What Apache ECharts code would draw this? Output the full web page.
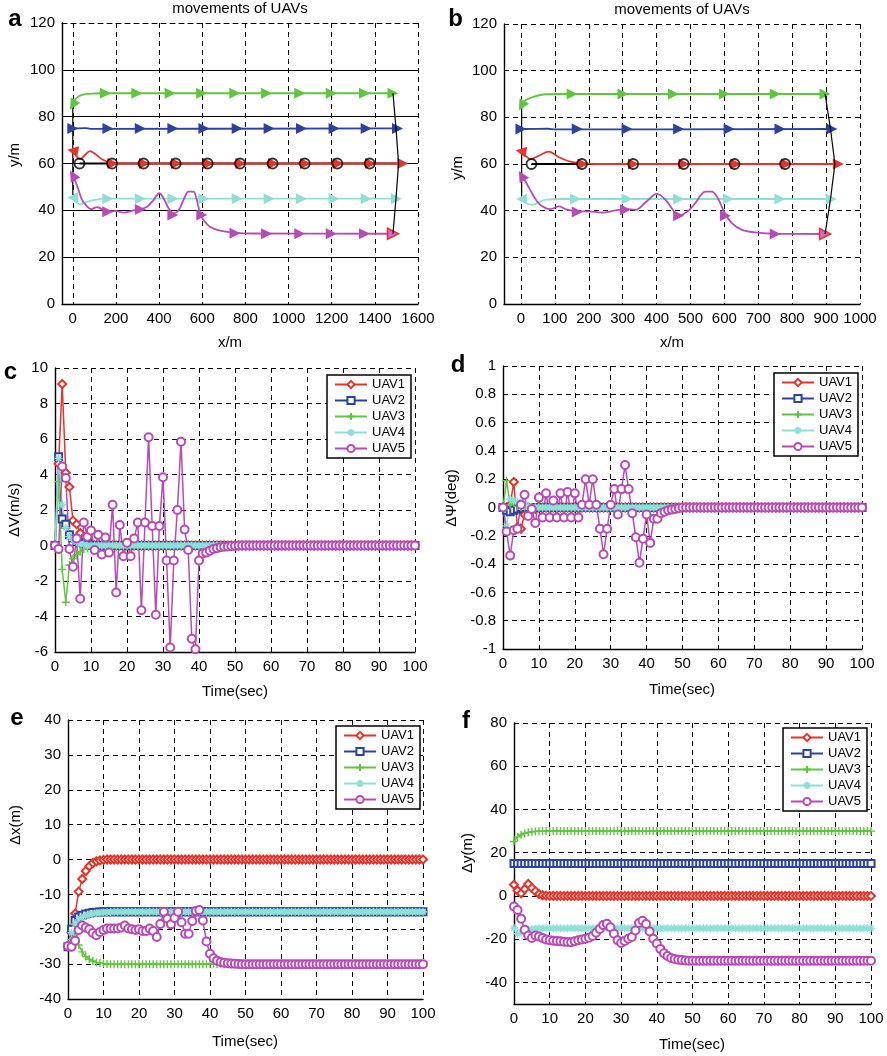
<!DOCTYPE html>
<html><head><meta charset="utf-8">
<script src="https://cdn.jsdelivr.net/npm/echarts@6/dist/echarts.min.js"></script>
<style>html,body{margin:0;padding:0;background:#fff}#c{width:887px;height:1056px}</style>
</head><body><div id="c"></div>
<script>
// ---------------- tick labels ----------------
const aXTicks = [0,200,400,600,800,1000,1200,1400,1600];
const aYTicks = [0,20,40,60,80,100,120];
const aYGrid = [0,20,40,60,80,100];
const bXTicks = [0,100,200,300,400,500,600,700,800,900,1000];
const fYTicks = [-40,-20,0,20,40,60,80];
const uavNames = ['UAV1','UAV2','UAV3','UAV4','UAV5'];

// ---------------- panel a: trajectories (x/m, y/m) ----------------
const aUav1Path = [[0,65.5],[18,63],[34,61.8],[55,63.5],[80,65.3],[105,64],[135,61.8],[175,60.4],[230,60],[1530,60]];
const aUav2Path = [[0,75],[60,75.1],[80,74.8],[1505,75]];
const aUav3Path = [[0,85],[12,87.3],[30,88.8],[60,89.6],[100,89.9],[150,90],[1484,90]];
const aUav4Path = [[0,45.5],[15,43.5],[35,42.6],[60,43.5],[100,44.5],[160,45],[1500,45]];
const aUav5Path = [[0,55.1],[20,50.5],[43,44.5],[65,41.8],[85,40.5],[112,41.4],[136,40.4],[162,39.4],[197,39.8],[236,39],[282,40],[313,40.4],[344,41.5],[374,44.4],[401,47.3],[425,44.4],[444,40.9],[467,38.7],[490,39.9],[513,44.4],[536,48],[559,48],[575,44.4],[590,38.7],[606,35.9],[636,33],[683,31.3],[744,30.5],[837,30.1],[1484,30]];
const aUav1Marks = [[0,65.5],[186,60],[332,60],[481,60],[629,60],[779,60],[930,60],[1079,60],[1230,60],[1380,60],[1530,60]];
const aUav2Marks = [[0,75],[163,75],[313,75],[464,75],[608,75],[762,75],[910,75],[1060,75],[1211,75],[1360,75],[1505,75]];
const aUav3Marks = [[0,85],[151,90],[297,90],[451,90],[597,90],[751,90],[898,90],[1052,90],[1198,90],[1352,90],[1484,90]];
const aUav4Marks = [[0,45.5],[162,45],[313,45],[464,45],[608,45],[762,45],[910,45],[1060,45],[1211,45],[1360,45],[1500,45]];
const aUav5Marks = [[0,55],[162,39.4],[313,40.4],[464,38],[598,38],[752,30.2],[898,30],[1052,30],[1198,30],[1352,30],[1484,30]];
const aLeaderPath = [[31,60],[1510,60]];
const aLeaderMarks = [[31,60],[182,60],[328,60],[477,60],[625,60],[775,60],[926,60],[1075,60],[1226,60],[1376,60]];
const aStartLine = [[0,85],[0,75],[0,65],[0,55],[0,45]];
const aEndLine = [[1484,90],[1498,75],[1510,60],[1498,45],[1484,30]];

// ---------------- panel b: trajectories ----------------
const bUav1Path = [[0,65.8],[14,63.5],[28.6,62.1],[48,63.2],[82,65.3],[112,62.9],[146,61],[181,60.4],[220,60],[936,60]];
const bUav2Path = [[0,75],[80,75.1],[100,74.8],[917,75]];
const bUav3Path = [[2,85.3],[12,87.2],[33,88.6],[73,89.9],[120,90],[897,90]];
const bUav4Path = [[2,45.1],[15,43.2],[33,42.5],[73,44.7],[120,45],[915,45]];
const bUav5Path = [[2,55.4],[19,51.1],[38,46.1],[53,43],[73,41.1],[87,40.7],[112,41.8],[131,40.7],[166,39.7],[200,39.7],[239,39.2],[279,40.1],[308,40.7],[338,40.4],[367,43.5],[401,47.2],[426,44.7],[455,39],[465,37.8],[495,40.1],[514,43.2],[544,48.2],[563,48.2],[583,44.7],[601,39],[622,34.7],[652,31.8],[691,30.7],[750,30.1],[897,30]];
const bUav1Marks = [[0,65.5],[183,60],[332,60],[481,60],[634,60],[783,60],[936,60]];
const bUav2Marks = [[0,75],[166,75],[313,75],[465,75],[614,75],[764,75],[917,75]];
const bUav3Marks = [[2,85],[151,90],[301,90],[450,90],[600,90],[750,90],[897,90]];
const bUav4Marks = [[2,45],[161,45],[313,45],[465,45],[612,45],[764,45],[915,45]];
const bUav5Marks = [[2,55],[166,39.4],[308,40.4],[465,37.8],[603,37.8],[750,30],[897,30]];
const bLeaderPath = [[31,60],[930,60]];
const bLeaderMarks = [[31,60],[180,60],[331,60],[480,60],[630,60],[779,60]];
const bStartLine = [[2,85],[2,75],[2,65],[2,55],[2,45]];
const bEndLine = [[897,90],[913,75],[926,60],[913,45],[897,30]];

// ---------------- time (sec) ----------------
const time = [
0,1,2,3,4,5,6,7,8,9,
10,11,12,13,14,15,16,17,18,19,
20,21,22,23,24,25,26,27,28,29,
30,31,32,33,34,35,36,37,38,39,
40,41,42,43,44,45,46,47,48,49,
50,51,52,53,54,55,56,57,58,59,
60,61,62,63,64,65,66,67,68,69,
70,71,72,73,74,75,76,77,78,79,
80,81,82,83,84,85,86,87,88,89,
90,91,92,93,94,95,96,97,98,99,
100];

// ---------------- panel c: dV (m/s) ----------------
const cUav1 = [
0,4.6,9.1,4.1,3.3,1.4,1.2,0.7,0.4,0.2,
0.1,0,0,0,0,0,0,0,0,0,
0,0,0,0,0,0,0,0,0,0,
0,0,0,0,0,0,0,0,0,0,
0,0,0,0,0,0,0,0,0,0,
0,0,0,0,0,0,0,0,0,0,
0,0,0,0,0,0,0,0,0,0,
0,0,0,0,0,0,0,0,0,0,
0,0,0,0,0,0,0,0,0,0,
0,0,0,0,0,0,0,0,0,0,
0];
const cUav2 = [
0,5.0,1.5,1.2,0.6,0.4,0.3,0.2,0.1,0.05,
0,0,0,0,0,0,0,0,0,0,
0,0,0,0,0,0,0,0,0,0,
0,0,0,0,0,0,0,0,0,0,
0,0,0,0,0,0,0,0,0,0,
0,0,0,0,0,0,0,0,0,0,
0,0,0,0,0,0,0,0,0,0,
0,0,0,0,0,0,0,0,0,0,
0,0,0,0,0,0,0,0,0,0,
0,0,0,0,0,0,0,0,0,0,
0];
const cUav3 = [
0,3.6,-1.35,-3.2,-1.1,-0.75,-0.5,-0.35,-0.2,-0.15,
-0.1,-0.05,0,0,0,0,0,0,0,0,
0,0,0,0,0,0,0,0,0,0,
0,0,0,0,0,0,0,0,0,0,
0,0,0,0,0,0,0,0,0,0,
0,0,0,0,0,0,0,0,0,0,
0,0,0,0,0,0,0,0,0,0,
0,0,0,0,0,0,0,0,0,0,
0,0,0,0,0,0,0,0,0,0,
0,0,0,0,0,0,0,0,0,0,
0];
const cUav4 = [
0,4.9,2.3,1.0,0.5,0.3,0.2,0.1,0.05,0,
0,0,0,0,0,0,0,0,0,0,
0,0,0,0,0,0,0,0,0,0,
0,0,0,0,0,0,0,0,0,0,
0,0,0,0,0,0,0,0,0,0,
0,0,0,0,0,0,0,0,0,0,
0,0,0,0,0,0,0,0,0,0,
0,0,0,0,0,0,0,0,0,0,
0,0,0,0,0,0,0,0,0,0,
0,0,0,0,0,0,0,0,0,0,
0];
const cUav5 = [
0,-0.2,4.45,3.8,-0.2,-1.2,0.4,-3.0,1.3,0.5,
0.85,-0.25,0.6,-0.5,0.45,-0.4,2.3,-2.65,1.15,-0.6,
0.15,-0.6,0.4,1.3,-3.65,1.3,6.1,1.1,-3.9,1.1,
3.85,-0.85,-5.75,-0.85,2.0,5.85,0.9,-0.25,-5.25,-5.85,
-0.85,-0.45,-0.4,-0.3,-0.2,-0.15,-0.1,-0.07,-0.05,-0.03,
-0.02,0,0,0,0,0,0,0,0,0,
0,0,0,0,0,0,0,0,0,0,
0,0,0,0,0,0,0,0,0,0,
0,0,0,0,0,0,0,0,0,0,
0,0,0,0,0,0,0,0,0,0,
0];

// ---------------- panel d: dPsi (deg) ----------------
const dUav1 = [
0,0,0.02,0.18,-0.14,-0.15,-0.05,-0.03,-0.02,-0.01,
0,0,0,0,0,0,0,0,0,0,
0,0,0,0,0,0,0,0,0,0,
0,0,0,0,0,0,0,0,0,0,
0,0,0,0,0,0,0,0,0,0,
0,0,0,0,0,0,0,0,0,0,
0,0,0,0,0,0,0,0,0,0,
0,0,0,0,0,0,0,0,0,0,
0,0,0,0,0,0,0,0,0,0,
0,0,0,0,0,0,0,0,0,0,
0];
const dUav2 = [
0,-0.02,-0.03,-0.02,-0.01,0,0,0,0,0,
0,0,0,0,0,0,0,0,0,0,
0,0,0,0,0,0,0,0,0,0,
0,0,0,0,0,0,0,0,0,0,
0,0,0,0,0,0,0,0,0,0,
0,0,0,0,0,0,0,0,0,0,
0,0,0,0,0,0,0,0,0,0,
0,0,0,0,0,0,0,0,0,0,
0,0,0,0,0,0,0,0,0,0,
0,0,0,0,0,0,0,0,0,0,
0];
const dUav3 = [
0,0.19,0.02,0.03,0.01,0,0,0,0,0,
0,0,0,0,0,0,0,0,0,0,
0,0,0,0,0,0,0,0,0,0,
0,0,0,0,0,0,0,0,0,0,
0,0,0,0,0,0,0,0,0,0,
0,0,0,0,0,0,0,0,0,0,
0,0,0,0,0,0,0,0,0,0,
0,0,0,0,0,0,0,0,0,0,
0,0,0,0,0,0,0,0,0,0,
0,0,0,0,0,0,0,0,0,0,
0];
const dUav4 = [
0,-0.13,0.06,0.05,0.04,0.03,0.02,0.01,0,0,
0,0,0,0,0,0,0,0,0,0,
0,0,0,0,0,0,0,0,0,0,
0,0,0,0,0,0,0,0,0,0,
0,0,0,0,0,0,0,0,0,0,
0,0,0,0,0,0,0,0,0,0,
0,0,0,0,0,0,0,0,0,0,
0,0,0,0,0,0,0,0,0,0,
0,0,0,0,0,0,0,0,0,0,
0,0,0,0,0,0,0,0,0,0,
0];
const dUav5 = [
0,-0.17,-0.34,-0.16,-0.15,0.02,0.09,-0.06,-0.01,-0.11,
0.07,-0.07,0.1,-0.07,0.05,-0.07,0.1,-0.07,0.11,-0.07,
0.1,-0.07,0.02,0.2,0.02,0.2,0.02,-0.15,-0.33,-0.15,
0.02,0.13,-0.05,0.13,0.3,0.13,-0.04,-0.21,-0.39,-0.22,
-0.05,-0.25,-0.08,-0.08,-0.04,-0.03,-0.02,-0.015,-0.01,-0.005,
0,0,0,0,0,0,0,0,0,0,
0,0,0,0,0,0,0,0,0,0,
0,0,0,0,0,0,0,0,0,0,
0,0,0,0,0,0,0,0,0,0,
0,0,0,0,0,0,0,0,0,0,
0];

// ---------------- panel e: dx (m) ----------------
const eUav1 = [
-25,-21,-15.5,-9.2,-5.6,-3.3,-1.9,-1.0,-0.5,-0.25,
-0.1,0,0,0,0,0,0,0,0,0,
0,0,0,0,0,0,0,0,0,0,
0,0,0,0,0,0,0,0,0,0,
0,0,0,0,0,0,0,0,0,0,
0,0,0,0,0,0,0,0,0,0,
0,0,0,0,0,0,0,0,0,0,
0,0,0,0,0,0,0,0,0,0,
0,0,0,0,0,0,0,0,0,0,
0,0,0,0,0,0,0,0,0,0,
0];
const eUav2 = [
-25,-20,-17.5,-16.5,-16,-15.6,-15.4,-15.2,-15.1,-15.05,
-15,-15,-15,-15,-15,-15,-15,-15,-15,-15,
-15,-15,-15,-15,-15,-15,-15,-15,-15,-15,
-15,-15,-15,-15,-15,-15,-15,-15,-15,-15,
-15,-15,-15,-15,-15,-15,-15,-15,-15,-15,
-15,-15,-15,-15,-15,-15,-15,-15,-15,-15,
-15,-15,-15,-15,-15,-15,-15,-15,-15,-15,
-15,-15,-15,-15,-15,-15,-15,-15,-15,-15,
-15,-15,-15,-15,-15,-15,-15,-15,-15,-15,
-15,-15,-15,-15,-15,-15,-15,-15,-15,-15,
-15];
const eUav3 = [
-25,-23,-22.5,-24.5,-26.5,-27.8,-28.6,-29.1,-29.5,-29.7,
-29.85,-29.95,-30,-30,-30,-30,-30,-30,-30,-30,
-30,-30,-30,-30,-30,-30,-30,-30,-30,-30,
-30,-30,-30,-30,-30,-30,-30,-30,-30,-30,
-30,-30,-30,-30,-30,-30,-30,-30,-30,-30,
-30,-30,-30,-30,-30,-30,-30,-30,-30,-30,
-30,-30,-30,-30,-30,-30,-30,-30,-30,-30,
-30,-30,-30,-30,-30,-30,-30,-30,-30,-30,
-30,-30,-30,-30,-30,-30,-30,-30,-30,-30,
-30,-30,-30,-30,-30,-30,-30,-30,-30,-30,
-30];
const eUav4 = [
-25,-21,-18.5,-17.3,-16.6,-16.1,-15.8,-15.6,-15.4,-15.3,
-15.2,-15.1,-15.05,-15,-15,-15,-15,-15,-15,-15,
-15,-15,-15,-15,-15,-15,-15,-15,-15,-15,
-15,-15,-15,-15,-15,-15,-15,-15,-15,-15,
-15,-15,-15,-15,-15,-15,-15,-15,-15,-15,
-15,-15,-15,-15,-15,-15,-15,-15,-15,-15,
-15,-15,-15,-15,-15,-15,-15,-15,-15,-15,
-15,-15,-15,-15,-15,-15,-15,-15,-15,-15,
-15,-15,-15,-15,-15,-15,-15,-15,-15,-15,
-15,-15,-15,-15,-15,-15,-15,-15,-15,-15,
-15];
const eUav5 = [
-24.8,-25,-23.3,-20.2,-18.9,-19.5,-20,-21.1,-21.7,-20.8,
-20.2,-19.8,-19.8,-19.8,-19.8,-19.5,-18.9,-19.8,-20,-20.2,
-20,-20.5,-20.5,-19.8,-20.5,-22.2,-18.5,-15,-17,-18.6,
-16.8,-15,-18,-21.3,-21.3,-17.6,-14.8,-14.5,-17.5,-23.5,
-27,-28.3,-29,-29.4,-29.6,-29.75,-29.85,-29.9,-29.95,-30,
-30,-30,-30,-30,-30,-30,-30,-30,-30,-30,
-30,-30,-30,-30,-30,-30,-30,-30,-30,-30,
-30,-30,-30,-30,-30,-30,-30,-30,-30,-30,
-30,-30,-30,-30,-30,-30,-30,-30,-30,-30,
-30,-30,-30,-30,-30,-30,-30,-30,-30,-30,
-30];

// ---------------- panel f: dy (m) ----------------
const fUav1 = [
5.2,2.5,1.2,3.2,5.5,3.7,2.2,0.9,0.3,0.1,
0,0,0,0,0,0,0,0,0,0,
0,0,0,0,0,0,0,0,0,0,
0,0,0,0,0,0,0,0,0,0,
0,0,0,0,0,0,0,0,0,0,
0,0,0,0,0,0,0,0,0,0,
0,0,0,0,0,0,0,0,0,0,
0,0,0,0,0,0,0,0,0,0,
0,0,0,0,0,0,0,0,0,0,
0,0,0,0,0,0,0,0,0,0,
0];
const fUav2 = [
15,15,15,15,15,15,15,15,15,15,
15,15,15,15,15,15,15,15,15,15,
15,15,15,15,15,15,15,15,15,15,
15,15,15,15,15,15,15,15,15,15,
15,15,15,15,15,15,15,15,15,15,
15,15,15,15,15,15,15,15,15,15,
15,15,15,15,15,15,15,15,15,15,
15,15,15,15,15,15,15,15,15,15,
15,15,15,15,15,15,15,15,15,15,
15,15,15,15,15,15,15,15,15,15,
15];
const fUav3 = [
25.2,27.3,28.3,29,29.4,29.7,29.85,29.95,30,30,
30,30,30,30,30,30,30,30,30,30,
30,30,30,30,30,30,30,30,30,30,
30,30,30,30,30,30,30,30,30,30,
30,30,30,30,30,30,30,30,30,30,
30,30,30,30,30,30,30,30,30,30,
30,30,30,30,30,30,30,30,30,30,
30,30,30,30,30,30,30,30,30,30,
30,30,30,30,30,30,30,30,30,30,
30,30,30,30,30,30,30,30,30,30,
30];
const fUav4 = [
-14.9,-17.5,-16.8,-16,-15.6,-15.4,-15.2,-15.1,-15.05,-15,
-15,-15,-15,-15,-15,-15,-15,-15,-15,-15,
-15,-15,-15,-15,-15,-15,-15,-15,-15,-15,
-15,-15,-15,-15,-15,-15,-15,-15,-15,-15,
-15,-15,-15,-15,-15,-15,-15,-15,-15,-15,
-15,-15,-15,-15,-15,-15,-15,-15,-15,-15,
-15,-15,-15,-15,-15,-15,-15,-15,-15,-15,
-15,-15,-15,-15,-15,-15,-15,-15,-15,-15,
-15,-15,-15,-15,-15,-15,-15,-15,-15,-15,
-15,-15,-15,-15,-15,-15,-15,-15,-15,-15,
-15];
const fUav5 = [
-4.9,-6.5,-10.6,-15.7,-18.3,-19.5,-18.3,-18.8,-19.5,-20.2,
-20.5,-20.7,-20.9,-21,-21.2,-21.3,-21.4,-21,-20.5,-20.2,
-19.8,-19.3,-18.5,-17,-15.3,-13.5,-12.9,-14.5,-17.5,-20.5,
-21.8,-20.8,-19.8,-19,-16,-12.5,-11.5,-13,-16.5,-19.8,
-22,-24.5,-26.5,-27.8,-28.7,-29.2,-29.5,-29.7,-29.85,-29.95,
-30,-30,-30,-30,-30,-30,-30,-30,-30,-30,
-30,-30,-30,-30,-30,-30,-30,-30,-30,-30,
-30,-30,-30,-30,-30,-30,-30,-30,-30,-30,
-30,-30,-30,-30,-30,-30,-30,-30,-30,-30,
-30,-30,-30,-30,-30,-30,-30,-30,-30,-30,
-30];

// ---------------- styles ----------------
const FONT = 'Liberation Sans';
const COLORS = ['#e4352a','#2c42a2','#5ec63f','#8ee0d7','#b84ab8'];
const PLUS = 'path://M5,0V10M0,5H10';
const STAR = 'path://M5,0V10M0,5H10M1.6,1.6L8.4,8.4M8.4,1.6L1.6,8.4';
const SYMBOLS = ['emptyDiamond','emptyRect',PLUS,STAR,'emptyCircle'];
const SYMSIZE = [8,7,8,8,8];
const STROKE_ONLY = [false,false,true,true,false];
const START_ROT = [80,-90,150,90,30];
const DASH = {color:'#000', width:1, type:[5,4]};
const SOLID = {color:'#000', width:1};

function fmt(v){ return String(+(+v).toFixed(2)); }
function vAxis(o){
  const ax = {
    type:'value', gridIndex:o.grid, min:o.min, max:o.max,
    axisLine:{show:true, onZero:false, lineStyle:{color:'#000', width:1.4}},
    axisTick:{show:false},
    axisLabel:{show:true, color:'#000', fontSize:15, fontFamily:FONT, margin:7, formatter:fmt},
    splitLine:{show:true, lineStyle:o.split || DASH}
  };
  if (o.interval) ax.interval = o.interval;
  if (o.tickValues) ax.axisTick.customValues = o.tickValues;
  if (o.labelValues) ax.axisLabel.customValues = o.labelValues;
  if (o.position) ax.position = o.position;
  return ax;
}

const xAxes = [
  vAxis({grid:0, min:-50, max:1600, tickValues:aXTicks, labelValues:aXTicks}),
  {type:'value', gridIndex:0, position:'top', min:-50, max:1600,
   axisLine:{show:true,onZero:false,lineStyle:DASH}, axisTick:{show:false}, axisLabel:{show:false}, splitLine:{show:false}},
  vAxis({grid:1, min:-50, max:1000, tickValues:bXTicks, labelValues:bXTicks}),
  vAxis({grid:2, min:0, max:100, interval:10}),
  vAxis({grid:3, min:0, max:100, interval:10}),
  vAxis({grid:4, min:0, max:100, interval:10}),
  vAxis({grid:5, min:0, max:100, interval:10})
];
const yAxes = [
  vAxis({grid:0, min:0, max:120, tickValues:aYGrid, labelValues:aYTicks, split:SOLID}),
  vAxis({grid:1, min:0, max:120, interval:20}),
  vAxis({grid:2, min:-6, max:10, interval:2}),
  vAxis({grid:3, min:-1, max:1, interval:0.2}),
  vAxis({grid:4, min:-40, max:40, interval:10}),
  vAxis({grid:5, min:-50, max:80, tickValues:fYTicks, labelValues:fYTicks})
];

const series = [];
// time panels
function addTimePanel(arrs, xi, yi){
  arrs.forEach((vals, k) => {
    series.push({
      name: uavNames[k], type:'line', xAxisIndex:xi, yAxisIndex:yi,
      data: time.map((t,i)=>[t, vals[i]]),
      symbol: SYMBOLS[k], symbolSize: SYMSIZE[k], showAllSymbol:true,
      lineStyle:{color:COLORS[k], width:1.5},
      itemStyle:{color: STROKE_ONLY[k] ? 'rgba(0,0,0,0)' : COLORS[k], borderColor:COLORS[k], borderWidth: STROKE_ONLY[k] ? 1.4 : 1.2},
      silent:true
    });
  });
}
addTimePanel([cUav1,cUav2,cUav3,cUav4,cUav5], 3, 2);
addTimePanel([dUav1,dUav2,dUav3,dUav4,dUav5], 4, 3);
addTimePanel([eUav1,eUav2,eUav3,eUav4,eUav5], 5, 4);
addTimePanel([fUav1,fUav2,fUav3,fUav4,fUav5], 6, 5);

// trajectory panels
function addTrajPanel(tag, paths, marks, leaderPath, leaderMarks, startLine, endLine, xi, yi){
  series.push({name:tag+'start', type:'line', xAxisIndex:xi, yAxisIndex:yi, data:startLine, showSymbol:false,
    lineStyle:{color:'#000', width:1.2}, silent:true, z:2});
  series.push({name:tag+'leader', type:'line', xAxisIndex:xi, yAxisIndex:yi, data:leaderPath, showSymbol:false,
    lineStyle:{color:'#000', width:1.8}, silent:true, z:2});
  paths.forEach((p,k)=>{
    series.push({name:tag+'path'+k, type:'line', xAxisIndex:xi, yAxisIndex:yi, data:p, showSymbol:false,
      smooth:0.35, lineStyle:{color:COLORS[k], width:1.8}, silent:true, z:3});
  });
  marks.forEach((m,k)=>{
    const last = m.length-1;
    series.push({name:tag+'mark'+k, type:'scatter', xAxisIndex:xi, yAxisIndex:yi,
      symbol:'triangle', symbolSize:11, symbolRotate:-90,
      itemStyle:{color:COLORS[k], opacity:1},
      data: m.map((pt,i)=>{
        if (i===0) return {value:pt, symbolRotate:START_ROT[k]};
        if (i===last && k===4) return {value:pt, itemStyle:{color:'#d46ad0', borderColor:'#e4352a', borderWidth:1.5}};
        return pt;
      }),
      silent:true, z:4});
  });
  series.push({name:tag+'end', type:'line', xAxisIndex:xi, yAxisIndex:yi, data:endLine, showSymbol:false,
    lineStyle:{color:'#000', width:1.2}, silent:true, z:5});
  series.push({name:tag+'leaderMarks', type:'scatter', xAxisIndex:xi, yAxisIndex:yi, data:leaderMarks,
    symbol:'circle', symbolSize:10, itemStyle:{color:'rgba(0,0,0,0)', borderColor:'#000', borderWidth:1.8},
    silent:true, z:6});
}
addTrajPanel('a', [aUav1Path,aUav2Path,aUav3Path,aUav4Path,aUav5Path],
  [aUav1Marks,aUav2Marks,aUav3Marks,aUav4Marks,aUav5Marks], aLeaderPath, aLeaderMarks, aStartLine, aEndLine, 0, 0);
addTrajPanel('b', [bUav1Path,bUav2Path,bUav3Path,bUav4Path,bUav5Path],
  [bUav1Marks,bUav2Marks,bUav3Marks,bUav4Marks,bUav5Marks], bLeaderPath, bLeaderMarks, bStartLine, bEndLine, 2, 1);

function legendAt(left, top){
  return {orient:'vertical', left:left, top:top, data:uavNames, selectedMode:false,
    itemWidth:32, itemHeight:9, itemGap:3, padding:[3,6,3,7],
    backgroundColor:'#fff', borderColor:'#000', borderWidth:1.5, borderRadius:0,
    textStyle:{fontSize:13, color:'#000', fontFamily:FONT, lineHeight:13}};
}

function txt(x, y, s, size, opts){
  opts = opts || {};
  return {type:'text', x:x, y:y, rotation:opts.rot||0, silent:true, z:100,
    style:{text:s, x:0, y:0, fill:'#000', textAlign:'center', textVerticalAlign:'middle',
      font:(opts.bold?'bold ':'')+size+'px "'+FONT+'"'}};
}
const R = Math.PI/2;
const graphics = [
  txt(240, 9, 'movements of UAVs', 15), txt(682, 10, 'movements of UAVs', 15),
  txt(15, 19, 'a', 24, {bold:true}), txt(455.5, 19.5, 'b', 24, {bold:true}),
  txt(10.5, 372, 'c', 24, {bold:true}), txt(458, 365, 'd', 24, {bold:true}),
  txt(17, 718, 'e', 24, {bold:true}), txt(466, 721, 'f', 24, {bold:true}),
  txt(230, 343, 'x/m', 15), txt(672, 343, 'x/m', 15),
  txt(15, 155, 'y/m', 15, {rot:R}), txt(458, 168, 'y/m', 15, {rot:R}),
  txt(235, 692, 'Time(sec)', 15), txt(682, 690, 'Time(sec)', 15),
  txt(245, 1042, 'Time(sec)', 15), txt(692, 1045, 'Time(sec)', 15),
  txt(15, 510, 'ΔV(m/s)', 15, {rot:R}), txt(452, 498, 'ΔΨ(deg)', 15, {rot:R}),
  txt(16, 825, 'Δx(m)', 15, {rot:R}), txt(468, 853, 'Δy(m)', 15, {rot:R})
];

const option = {
  animation:false,
  backgroundColor:'#fff',
  textStyle:{fontFamily:FONT},
  grid:[
    {left:62, top:23, width:356, height:281},
    {left:504, top:24, width:356, height:280},
    {left:55, top:368, width:360, height:284},
    {left:503, top:366, width:359, height:283},
    {left:68, top:720, width:355, height:279},
    {left:514, top:723, width:357, height:281}
  ],
  xAxis:xAxes, yAxis:yAxes,
  legend:[legendAt(327,375), legendAt(774,373), legendAt(336,726), legendAt(783,728)],
  graphic:graphics,
  series:series
};
const chart = echarts.init(document.getElementById('c'));
chart.setOption(option);
</script>
</body></html>
